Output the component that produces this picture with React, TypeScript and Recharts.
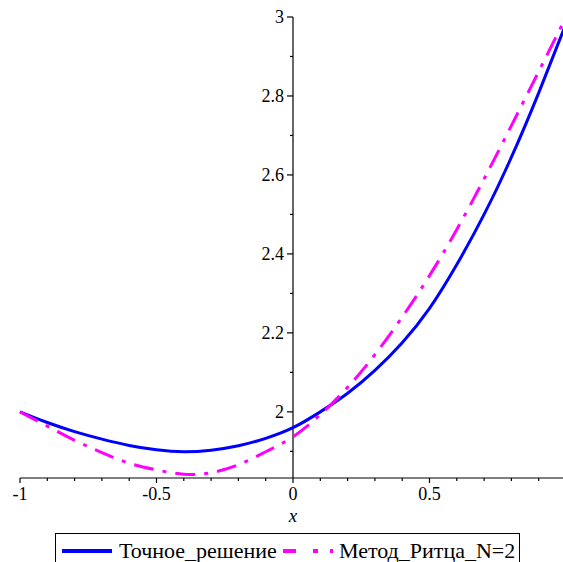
import React from "react"
import {
  LineChart,
  Line,
  XAxis,
  YAxis,
  ReferenceLine,
  Legend,
} from "recharts"

// x grid points and both curves
const xValues = [-1, -0.9, -0.8, -0.7, -0.6, -0.5, -0.4, -0.3, -0.2, -0.1, 0, 0.1, 0.2, 0.3, 0.4, 0.5, 0.6, 0.7, 0.8, 0.9, 1]
const exact = [2.0, 1.973, 1.95, 1.931, 1.915, 1.904, 1.899, 1.903, 1.914, 1.933, 1.96, 2.0, 2.047, 2.105, 2.175, 2.262, 2.373, 2.5, 2.645, 2.808, 2.983]
const ritz = [2.0, 1.964, 1.928, 1.897, 1.87, 1.853, 1.842, 1.846, 1.866, 1.899, 1.937, 1.993, 2.062, 2.145, 2.24, 2.345, 2.462, 2.59, 2.725, 2.862, 3.0]

const xTicks = [-1, -0.9, -0.8, -0.7, -0.6, -0.5, -0.4, -0.3, -0.2, -0.1, 0, 0.1, 0.2, 0.3, 0.4, 0.5, 0.6, 0.7, 0.8, 0.9]
const xLabels = [-1, -0.5, 0, 0.5]
const yTicks = [1.9, 2.0, 2.1, 2.2, 2.3, 2.4, 2.5, 2.6, 2.7, 2.8, 2.9, 3.0]
const yLabels = [2, 2.2, 2.4, 2.6, 2.8, 3]

const legendItems = [
  { name: "Точное_решение", color: "#0000ff", dash: undefined as string | undefined },
  { name: "Метод_Ритца_N=2", color: "#ff00ff", dash: "13 17 5 12 5" },
]

const data = xValues.map((x, i) => ({ x, exact: exact[i], ritz: ritz[i] }))

const W = 600
const H = 562
const M = { top: 17, right: 34, left: 19, bottom: 0 }
const Y_AXIS_W = 1
const X_AXIS_H = 84
const plotLeft = M.left + Y_AXIS_W
const plotW = W - plotLeft - M.right
const zeroX = plotLeft + plotW / 2
const axisY = H - M.bottom - X_AXIS_H
const FONT = "'Times New Roman', Times, 'Liberation Serif', 'DejaVu Serif', 'Noto Serif', serif"

const near = (a: number, list: number[]) => list.some((v) => Math.abs(v - a) < 1e-6)

const XTick = (props: any) => {
  const { x, payload } = props
  const v = payload.value as number
  const major = near(v, xLabels)
  return (
    <g>
      <line x1={x} x2={x} y1={axisY} y2={axisY + (major ? 5 : 3)} stroke="#000" strokeWidth={1.2} />
      {major && (
        <text x={x} y={axisY + 22} textAnchor="middle" style={{ fontFamily: FONT, fontSize: 18 }} fill="#000">
          {v === 0 ? "0" : v < 0 ? "-" + String(Math.abs(v)) : String(v)}
        </text>
      )}
    </g>
  )
}

const YTick = (props: any) => {
  const { y, payload } = props
  const v = payload.value as number
  const major = near(v, yLabels)
  return (
    <g>
      <line x1={zeroX - (major ? 6 : 3)} x2={zeroX} y1={y} y2={y} stroke="#000" strokeWidth={1.2} />
      {major && (
        <text x={zeroX - 9} y={y + 6} textAnchor="end" style={{ fontFamily: FONT, fontSize: 18 }} fill="#000">
          {String(Math.round(v * 10) / 10)}
        </text>
      )}
    </g>
  )
}

const LegendBox = () => (
  <div
    style={{
      border: "1px solid #000",
      width: 465,
      height: 36,
      display: "flex",
      alignItems: "center",
      fontFamily: FONT,
      fontSize: 22,
      color: "#000",
      background: "#fff",
      boxSizing: "border-box",
    }}
  >
    {legendItems.map((item, i) => (
      <div key={item.name} style={{ display: "flex", alignItems: "center", marginLeft: 6 }}>
        <svg width={50} height={10} style={{ display: "block" }}>
          <line x1={0} x2={50} y1={5} y2={5} stroke={item.color} strokeWidth={4} strokeDasharray={item.dash} />
        </svg>
        <span style={{ marginLeft: i === 0 ? 7 : 6, whiteSpace: "nowrap", lineHeight: "22px" }}>{item.name}</span>
      </div>
    ))}
  </div>
)

export default function App() {
  return (
    <div style={{ position: "absolute", left: 0, top: 0, width: 563, height: 562, overflow: "hidden", background: "#fff" }}>
      <LineChart width={W} height={H} data={data} margin={M}>
        <XAxis
          dataKey="x"
          type="number"
          domain={[-1, 1]}
          ticks={xTicks}
          interval={0}
          height={X_AXIS_H}
          axisLine={{ stroke: "#000", strokeWidth: 1.2 }}
          tickLine={false}
          tick={<XTick />}
          label={{ value: "x", position: "insideBottom", offset: 40, style: { fontFamily: FONT, fontSize: 19, fontStyle: "italic" }, fill: "#000" }}
        />
        <YAxis
          type="number"
          orientation="left"
          domain={[1.8325, 3.0]}
          ticks={yTicks}
          interval={0}
          width={Y_AXIS_W}
          axisLine={false}
          tickLine={false}
          tick={<YTick />}
          allowDataOverflow
        />
        <ReferenceLine x={0} stroke="#000" strokeWidth={1.2} />
        <Legend
          layout="horizontal"
          verticalAlign="middle"
          align="center"
          content={<LegendBox />}
          wrapperStyle={{ left: 55, top: 533, width: 465 }}
        />
        <Line
          type="natural"
          dataKey="exact"
          stroke="#0000ff"
          strokeWidth={3}
          dot={false}
          isAnimationActive={false}
        />
        <Line
          type="natural"
          dataKey="ritz"
          stroke="#ff00ff"
          strokeWidth={3}
          strokeDasharray="20 9 4 9"
          dot={false}
          isAnimationActive={false}
        />
      </LineChart>
    </div>
  )
}
